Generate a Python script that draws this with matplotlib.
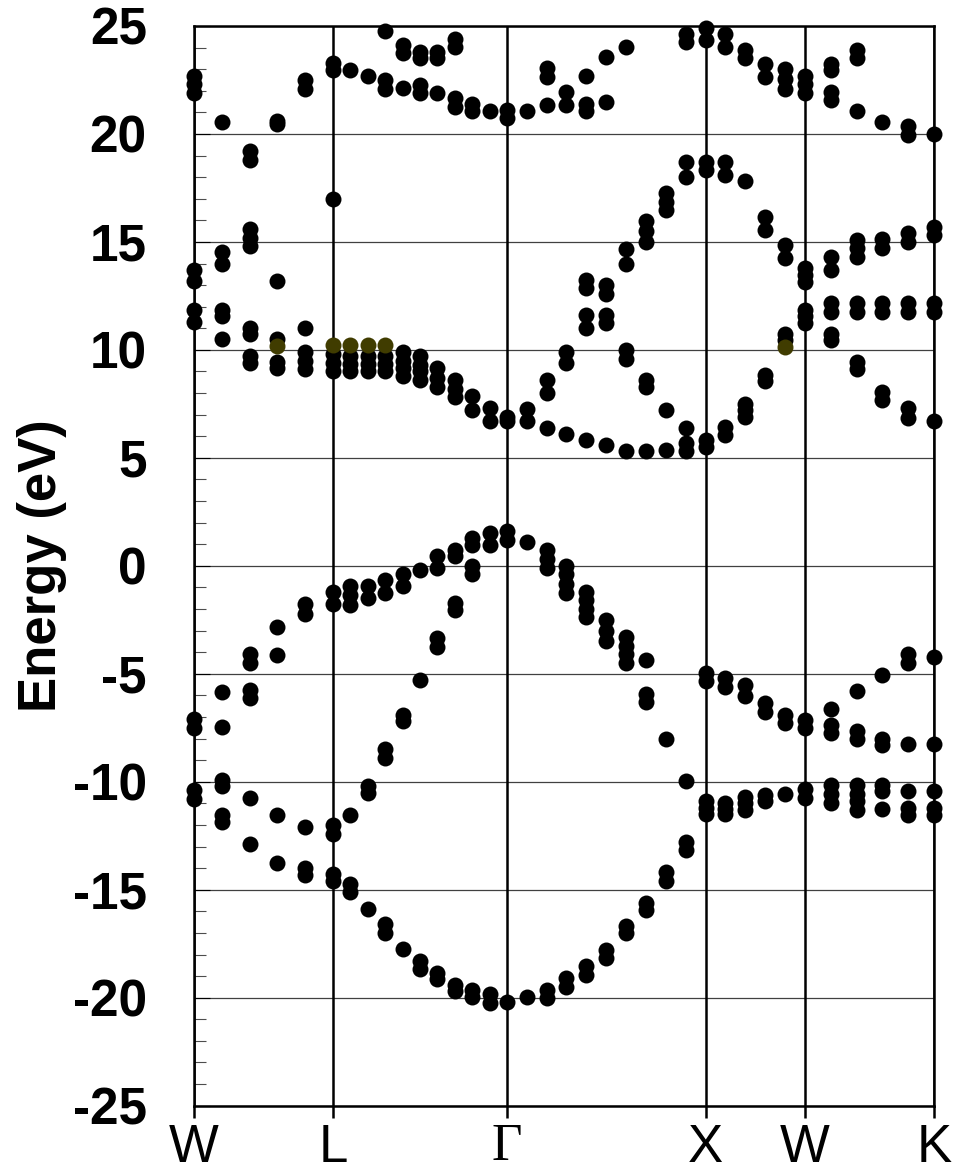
"""
Band structure along W-L-G-X-W-K drawn as discrete k-point energies
"""
import numpy as np
import matplotlib.pyplot as plt
from matplotlib.ticker import MultipleLocator

plt.rcParams['axes.unicode_minus'] = False

# path through the Brillouin zone
labels = ['W', 'L', 'Γ', 'X', 'W', 'K']
seg_len = [0.70, 0.875, 1.0, 0.50, 0.65]
seg_steps = [5, 10, 10, 5, 5]

# energies (eV) at each k-point, one list per k-point
bands_WL = [
    [22.7, 22.3, 21.9, 13.7, 13.2, 11.85, 11.3, -7.1, -7.5, -10.4, -10.8],
    [20.55, 14.55, 14.0, 11.85, 11.55, 10.5, -5.85, -7.45, -9.9, -10.2, -11.55, -11.85],
    [19.2, 18.8, 15.6, 15.2, 14.8, 11.0, 10.75, 9.7, 9.4, -4.1, -4.5, -5.75, -6.1, -10.75, -12.9],
    [20.6, 20.45, 13.2, 10.5, 9.45, 9.15, -2.85, -4.15, -11.55, -13.75],
    [22.5, 22.1, 11.0, 9.9, 9.5, 9.1, -1.75, -2.25, -12.1, -14.0, -14.3],
]
bands_LG = [
    [23.3, 22.95, 17.0, 9.8, 9.4, 9.0, -1.2, -1.75, -12.0, -12.4, -14.25, -14.6],
    [22.95, 9.7, 9.35, 9.0, -0.95, -1.35, -1.8, -11.55, -14.75, -15.1],
    [22.7, 9.7, 9.35, 9.0, -0.95, -1.5, -10.2, -10.5, -15.9],
    [24.75, 22.5, 22.1, 9.7, 9.35, 9.0, -0.65, -1.25, -8.5, -8.9, -16.6, -17.0],
    [24.1, 23.75, 22.15, 9.9, 9.5, 9.15, 8.8, -0.4, -0.95, -6.9, -7.2, -17.75],
    [23.8, 23.5, 22.25, 21.9, 9.7, 9.3, 9.0, 8.6, -0.2, -5.3, -18.3, -18.65],
    [23.8, 23.5, 21.9, 9.15, 8.7, 8.3, 0.45, -0.1, -3.35, -3.75, -18.85, -19.15],
    [24.4, 24.05, 21.65, 21.25, 8.6, 8.2, 7.8, 0.75, 0.45, -1.7, -2.05, -19.4, -19.7],
    [21.4, 21.05, 7.85, 7.2, 1.3, 0.95, 0.0, -0.4, -19.65, -19.95],
    [21.05, 7.3, 6.7, 1.5, 0.95, -19.85, -20.25],
]
bands_GX = [
    [21.1, 20.75, 6.9, 6.7, 1.6, 1.2, -20.2],
    [21.05, 7.25, 6.7, 1.1, -19.95],
    [23.05, 22.65, 21.35, 8.6, 8.0, 6.4, 0.75, 0.3, -0.1, -19.65, -20.0],
    [21.95, 21.35, 9.9, 9.4, 6.1, 0.0, -0.4, -0.85, -1.25, -19.1, -19.5],
    [22.7, 21.4, 21.05, 13.25, 12.85, 11.6, 11.0, 5.85, -1.2, -1.6, -2.0, -2.35, -18.55, -18.95],
    [23.55, 21.5, 13.0, 12.6, 11.6, 11.25, 5.6, -2.5, -3.0, -3.5, -17.8, -18.15],
    [24.05, 14.65, 14.0, 10.0, 9.6, 5.3, -3.3, -3.7, -4.1, -4.5, -16.7, -17.0],
    [15.95, 15.5, 15.0, 8.6, 8.3, 5.3, -4.35, -5.95, -6.3, -15.6, -15.95],
    [17.25, 16.85, 16.5, 7.2, 5.35, -8.0, -14.2, -14.6],
    [24.65, 24.25, 18.7, 18.0, 6.4, 5.7, 5.3, -9.95, -12.8, -13.15],
]
bands_XW = [
    [24.9, 24.35, 18.7, 18.35, 5.85, 5.5, -4.95, -5.35, -10.9, -11.2, -11.5],
    [24.65, 24.05, 18.7, 18.1, 6.45, 6.05, -5.2, -5.6, -11.0, -11.25, -11.5],
    [23.9, 23.5, 17.8, 7.5, 7.2, 6.9, -5.5, -6.05, -10.7, -11.0, -11.3],
    [23.25, 22.65, 16.15, 15.55, 8.85, 8.55, -6.35, -6.75, -10.6, -10.9],
    [23.0, 22.55, 22.1, 14.85, 14.25, 10.75, 10.45, -6.9, -7.3, -10.55],
]
bands_WK = [
    [22.7, 22.3, 21.9, 13.8, 13.45, 13.15, 11.85, 11.55, 11.25, -7.15, -7.5, -10.35, -10.75],
    [23.25, 22.95, 21.95, 21.55, 14.3, 13.7, 12.15, 11.75, 10.75, 10.45,
     -6.65, -7.35, -7.75, -10.15, -10.55, -11.0],
    [23.9, 23.5, 21.05, 15.1, 14.7, 14.3, 12.15, 11.75, 9.45, 9.1,
     -5.8, -7.65, -8.0, -10.15, -10.55, -10.9, -11.3],
    [20.55, 15.15, 14.7, 12.15, 11.75, 8.05, 7.7, -5.05, -8.0, -8.3, -10.15, -10.45, -11.25],
    [20.35, 19.95, 15.4, 15.0, 12.15, 11.75, 7.3, 6.85, -4.1, -4.5, -8.25, -10.45, -11.2, -11.55],
    [20.0, 15.7, 15.3, 12.15, 11.75, 6.7, -4.2, -8.25, -10.45, -11.2, -11.55],
]

# highlighted states (k-point index, energy)
marked_k = [3, 5, 6, 7, 8, 29]
marked_e = [10.2, 10.23, 10.23, 10.23, 10.23, 10.15]

# k coordinate of every point along the path
nodes = np.concatenate([[0.0], np.cumsum(seg_len)])
kx = np.concatenate([np.linspace(nodes[i], nodes[i + 1], n + 1)[:-1]
                     for i, n in enumerate(seg_steps)] + [[nodes[-1]]])

bands = bands_WL + bands_LG + bands_GX + bands_XW + bands_WK

fig = plt.figure(figsize=(9.57, 11.76), dpi=100)
ax = fig.add_axes([0.2027, 0.0598, 0.7733, 0.9181])

for x, ens in zip(kx, bands):
    ax.plot(np.full(len(ens), x), ens, 'o', color='black', ms=11.5, mew=0,
            zorder=3, clip_on=False)
ax.plot(kx[marked_k], marked_e, 'o', color='#403c00', ms=11.5, mew=0,
        zorder=4, clip_on=False)

for x in nodes:
    ax.axvline(x, color='black', lw=1.8, zorder=2)

ax.set_xlim(nodes[0], nodes[-1])
ax.set_ylim(-25, 25)
ax.yaxis.set_major_locator(MultipleLocator(5))
ax.yaxis.set_minor_locator(MultipleLocator(1))
ax.grid(axis='y', which='major', color='0.25', lw=0.9, zorder=1)

ax.set_xticks(nodes)
ax.set_xticklabels(labels, fontsize=38, fontfamily='Liberation Sans')
ax.get_xticklabels()[2].set_fontfamily('Liberation Serif')
ax.tick_params(axis='x', direction='out', length=8.6, width=1.8, pad=4)
ax.tick_params(axis='y', which='major', direction='in', length=11.5, width=0.8, pad=34)
ax.tick_params(axis='y', which='minor', direction='in', length=8.6, width=0.8, color='0.3')
for lab in ax.get_yticklabels():
    lab.set_fontsize(37)
    lab.set_fontweight('bold')
    lab.set_fontfamily('Liberation Sans')

ax.set_ylabel('Energy (eV)', fontsize=38, fontweight='bold', fontfamily='Liberation Sans')
ax.yaxis.set_label_coords(-0.172, 0.5)

for sp in ax.spines.values():
    sp.set_linewidth(1.8)

fig.savefig('out.png', dpi=100)
